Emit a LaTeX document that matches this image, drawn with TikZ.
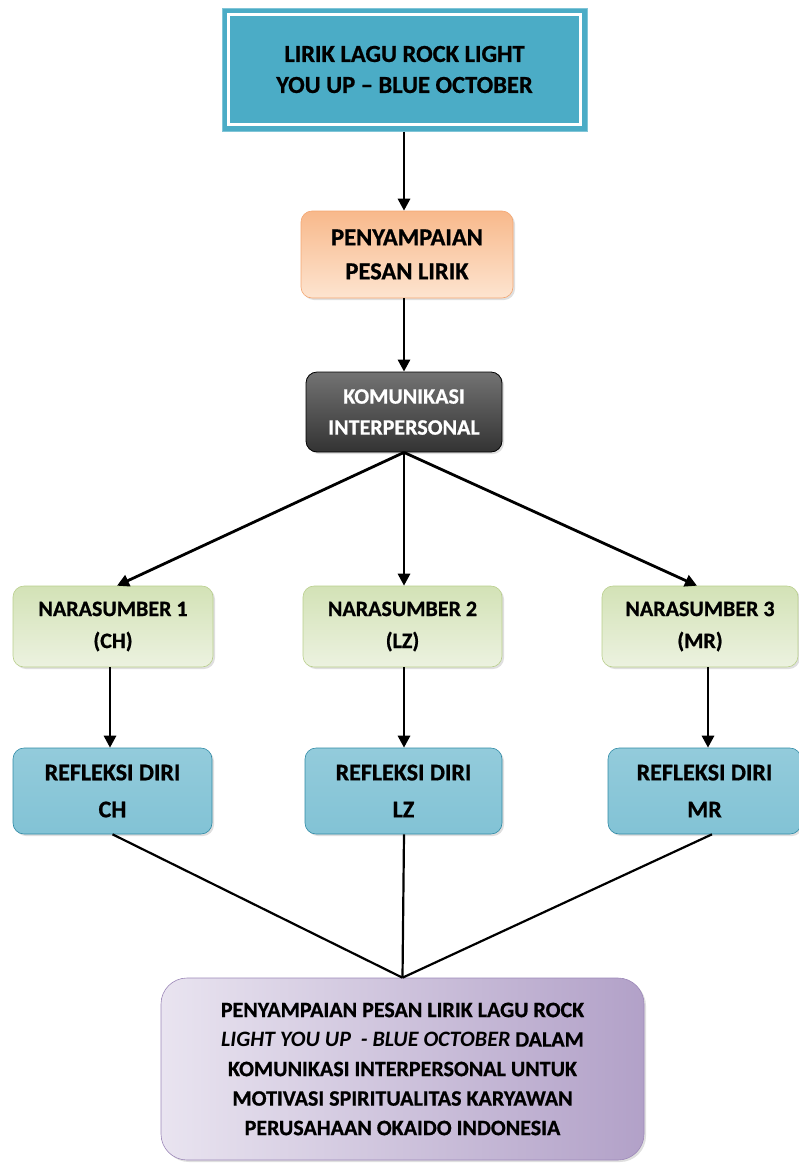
\documentclass[tikz,border=0pt]{standalone}
\usepackage{fontspec}
\setmainfont{Carlito}[BoldFeatures={FakeBold=0.8}]
\usetikzlibrary{arrows.meta,shadows}
\definecolor{teal1}{HTML}{4BACC6}
\definecolor{orgA}{HTML}{F8B98B}
\definecolor{orgB}{HTML}{FDE4D0}
\definecolor{orgE}{HTML}{F4A671}
\definecolor{grnA}{HTML}{D3E2B6}
\definecolor{grnB}{HTML}{ECF2E0}
\definecolor{grnE}{HTML}{B9CF8C}
\definecolor{bluA}{HTML}{93CBDB}
\definecolor{bluB}{HTML}{3FA2BE}
\definecolor{bluE}{HTML}{2F8AA5}
\definecolor{purA}{HTML}{E9E4F0}
\definecolor{purB}{HTML}{B2A1C8}
\definecolor{purE}{HTML}{9C88B8}
\tikzset{
  box/.style={rounded corners=11pt, align=center, font=\bfseries, inner sep=0pt,
    drop shadow={opacity=0.25, shadow xshift=2pt, shadow yshift=-2pt}},
  orangebox/.style={box, draw=orgE, line width=0.6pt, top color=orgA, bottom color=orgB,
    minimum width=212pt, minimum height=87pt, font=\bfseries\fontsize{24.5}{34}\selectfont},
  blackbox/.style={box, draw=black, line width=0.8pt, top color=black!55, middle color=black, bottom color=black!80,
    minimum width=196pt, minimum height=80pt, text=white, font=\bfseries\fontsize{22}{31}\selectfont},
  greenbox/.style={box, draw=grnE, line width=0.6pt, top color=grnA, bottom color=grnB,
    minimum height=81pt, font=\bfseries\fontsize{22}{32}\selectfont},
  bluebox/.style={box, draw=bluE, line width=0.6pt, top color=bluA, middle color=bluB, bottom color=bluA!80!bluB,
    minimum height=86pt, font=\bfseries\fontsize{24}{37}\selectfont},
  purplebox/.style={box, rounded corners=26pt, draw=purE, line width=0.6pt, shading angle=120,
    left color=purA, right color=purB, minimum width=483pt, minimum height=182pt,
    font=\bfseries\fontsize{22}{29.5}\selectfont},
  arr/.style={draw=black, line width=2.8pt, -{Triangle[length=12pt,width=12pt]}},
  joinline/.style={draw=black, line width=2.2pt}
}
\begin{document}
\begin{tikzpicture}[x=1pt,y=-1pt]
\useasboundingbox (0,0) rectangle (799,1165);
% top box
\node[fill=teal1, draw=teal1!70!white, line width=1pt, minimum width=365pt, minimum height=123pt,
  align=center, inner sep=0pt, font=\bfseries\fontsize{24.5}{31}\selectfont] (top) at (404.5,69.5)
  {LIRIK LAGU ROCK LIGHT\\YOU UP \textendash{} BLUE OCTOBER};
\draw[white, line width=2.2pt] ([xshift=7pt,yshift=-7pt]top.north west) rectangle ([xshift=-7pt,yshift=7pt]top.south east);
% orange
\node[orangebox] (or) at (407,254.5) {PENYAMPAIAN\\PESAN LIRIK};
% black
\node[blackbox] (bk) at (404,412) {KOMUNIKASI\\INTERPERSONAL};
% green
\node[greenbox, minimum width=200pt] (g1) at (113,626.5) {NARASUMBER 1\\(CH)};
\node[greenbox, minimum width=199pt] (g2) at (402.5,626.5) {NARASUMBER 2\\(LZ)};
\node[greenbox, minimum width=196pt] (g3) at (700,626.5) {NARASUMBER 3\\(MR)};
% blue
\node[bluebox, minimum width=199pt] (b1) at (112.5,791) {REFLEKSI DIRI\\CH};
\node[bluebox, minimum width=197pt] (b2) at (403.5,791) {REFLEKSI DIRI\\LZ};
\node[bluebox, minimum width=193pt] (b3) at (704.5,791) {REFLEKSI DIRI\\MR};
% purple
\node[purplebox] (pu) at (402.5,1069) {PENYAMPAIAN PESAN LIRIK LAGU ROCK\\
  \textit{LIGHT YOU UP\ \ - BLUE OCTOBER} DALAM\\
  KOMUNIKASI INTERPERSONAL UNTUK\\
  MOTIVASI SPIRITUALITAS KARYAWAN\\
  PERUSAHAAN OKAIDO INDONESIA};
% connectors
\draw[arr] (top.south -| 404,0) -- (or.north -| 404,0);
\draw[arr] (or.south -| 404,0) -- (bk.north -| 404,0);
\coordinate (split) at (bk.south);
\draw[arr] (split) -- ([xshift=4pt]g1.north);
\draw[arr] (split) -- (g2.north -| 404,0);
\draw[arr] (split) -- ([xshift=-3pt]g3.north);
\draw[arr] (g1.south -| 110,0) -- (b1.north -| 110,0);
\draw[arr] (g2.south -| 404,0) -- (b2.north -| 404,0);
\draw[arr] (g3.south -| 708,0) -- (b3.north -| 708,0);
\draw[joinline] (b1.south) -- (pu.north);
\draw[joinline] (b2.south -| 404,0) -- (pu.north);
\draw[joinline] (b3.south -| 712,0) -- (pu.north);
\end{tikzpicture}
\end{document}
